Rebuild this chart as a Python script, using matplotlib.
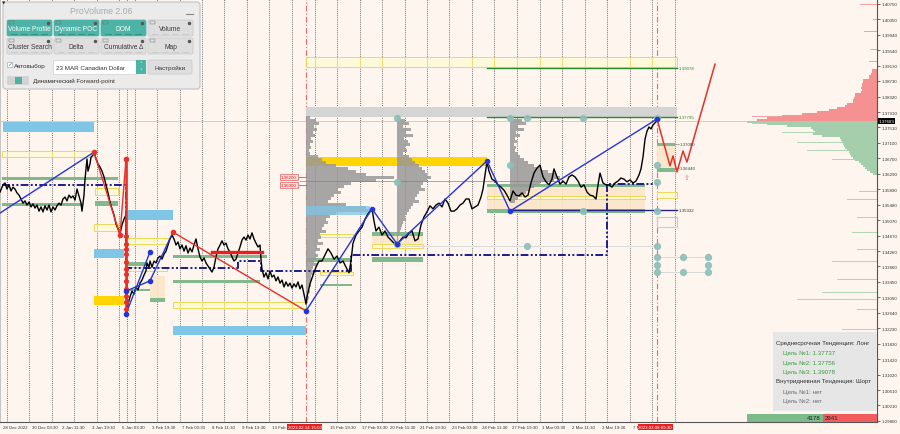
import numpy as np
import matplotlib.pyplot as plt
from matplotlib.patches import Rectangle, FancyBboxPatch

plt.rcParams['font.family'] = ['Liberation Sans', 'DejaVu Sans']

BG = '#fdf5ee'

# ---------------- values ----------------
price_ticks = [1.40750, 1.40350, 1.39940, 1.39540, 1.39130, 1.38730, 1.38320,
               1.37910, 1.37510, 1.37100, 1.36700, 1.36290, 1.35890, 1.35480,
               1.35070, 1.34670, 1.34260, 1.33860, 1.33450, 1.33050, 1.32640,
               1.32230, 1.31830, 1.31420, 1.31020, 1.30610, 1.30210, 1.29800]
last_price = 1.37683

# labels partly hidden behind the red time tags are kept as far as they show
date_pos = [3, 32, 62, 92, 122, 152, 182, 212, 242, 272, 330, 362, 390,
            420, 452, 482, 512, 542, 572, 602, 633]
date_labels = ['28 Dec 2022', '30 Dec 03:30', '2 Jan 11:30', '3 Jan 19:30',
               '5 Jan 03:30', '3 Feb 19:30', '7 Feb 03:30', '8 Feb 11:30',
               '9 Feb 19:30', '13 Feb', '15 Feb 19:30',
               '17 Feb 03:30', '20 Feb 11:30', '21 Feb 19:30', '23 Feb 03:30',
               '24 Feb 11:30', '27 Feb 19:30', '1 Mar 03:30', '2 Mar 11:30',
               '3 Mar 19:30', '7 M']
marker_pos = [306, 657]
marker_labels = ['2023.02.14 15:00', '2023.03.08 09:30']
grid_x = [7, 29, 52, 74, 97, 119, 127, 135, 157, 180, 202, 224, 247, 269, 292,
          315, 337, 360, 382, 405, 427, 449, 472, 494, 517, 540, 562, 585, 607,
          630, 652, 675]

# close prices (bar index, price)
seg_a_x = [0, 3, 5, 7, 9, 11, 13, 15, 17, 19, 21, 23, 25, 27, 29, 31, 33, 35, 37, 39,
           41, 43, 45, 47, 49, 51, 53, 55, 57, 59, 61, 63, 65, 67, 69, 71, 73, 75, 77, 79,
           81, 82, 84, 85, 86, 87, 88, 90, 91, 93, 94, 96, 98, 100, 102, 104, 106, 108,
           110, 112, 114, 116, 118, 120, 122, 124, 126]
seg_a = [1.3581, 1.3600, 1.3605, 1.3589, 1.3600, 1.3584, 1.3594, 1.3589, 1.3579, 1.3573,
         1.3563, 1.3552, 1.3558, 1.3547, 1.3555, 1.3542, 1.3550, 1.3539, 1.3547, 1.3531,
         1.3542, 1.3529, 1.3545, 1.3534, 1.3547, 1.3529, 1.3542, 1.3534, 1.3545, 1.3552,
         1.3547, 1.3563, 1.3568, 1.3558, 1.3573, 1.3566, 1.3571, 1.3560, 1.3589, 1.3571,
         1.3552, 1.3531, 1.3573, 1.3615, 1.3642, 1.3668, 1.3636, 1.3655, 1.3673, 1.3678,
         1.3686, 1.3668, 1.3655, 1.3647, 1.3636, 1.3621, 1.3600, 1.3579, 1.3555, 1.3537,
         1.3521, 1.3497, 1.3484, 1.3471, 1.3495, 1.3510, 1.3521]
seg_b_x = [127, 128, 130, 132, 134, 136, 138, 140, 142, 144, 146, 147, 149, 150, 152, 154,
           156, 158, 160, 162, 164, 166, 168, 170, 172, 174, 176, 178, 180, 182, 184, 186,
           188, 190, 192, 194, 196, 198, 200, 202, 204, 206, 208, 210, 212, 214, 216, 218,
           220, 222, 224, 226, 228, 230, 232, 234, 236, 238, 240, 242, 244, 246, 248, 250,
           252, 254, 256, 258, 260, 261, 262, 264, 266, 268, 270, 272, 274, 276, 278, 280,
           282, 284, 286, 288, 290, 292, 294, 296, 298, 300, 302, 304, 306]
seg_b = [1.3269, 1.3287, 1.3306, 1.3321, 1.3313, 1.3332, 1.3324, 1.3342, 1.3350, 1.3363,
         1.3374, 1.3395, 1.3384, 1.3400, 1.3384, 1.3400, 1.3395, 1.3408, 1.3413, 1.3405,
         1.3418, 1.3426, 1.3442, 1.3458, 1.3468, 1.3458, 1.3442, 1.3450, 1.3432, 1.3442,
         1.3426, 1.3440, 1.3421, 1.3434, 1.3424, 1.3442, 1.3458, 1.3432, 1.3411, 1.3400,
         1.3408, 1.3395, 1.3387, 1.3379, 1.3371, 1.3384, 1.3411, 1.3432, 1.3442, 1.3453,
         1.3442, 1.3447, 1.3432, 1.3424, 1.3411, 1.3400, 1.3405, 1.3421, 1.3437, 1.3455,
         1.3463, 1.3455, 1.3468, 1.3458, 1.3474, 1.3458, 1.3447, 1.3437, 1.3442, 1.3405,
         1.3379, 1.3358, 1.3369, 1.3353, 1.3374, 1.3358, 1.3363, 1.3348, 1.3358, 1.3342,
         1.3350, 1.3332, 1.3345, 1.3334, 1.3342, 1.3329, 1.3340, 1.3332, 1.3345, 1.3327,
         1.3337, 1.3313, 1.3287]
seg_c_x = [307, 310, 313, 316, 319, 322, 325, 328, 331, 334, 337, 340, 343, 346, 349, 351,
           353, 356, 359, 362, 365, 368, 372, 374, 376, 379, 382, 385, 388, 391, 394, 397,
           400, 403, 406, 409, 412, 415, 418, 421, 424, 427, 430, 433, 436, 439, 442, 445,
           448, 451, 454, 457, 460, 463, 466, 469, 472, 475, 478, 481, 483, 485, 487, 489,
           492, 495, 498, 501, 504, 507, 510, 513, 516, 519, 522, 525, 528, 531, 534, 537,
           540, 543, 546, 549, 552, 554, 557, 560, 563, 566, 569, 572, 575, 578, 581, 584,
           587, 590, 593, 596, 598, 600, 603, 606, 609, 612, 615, 618, 621, 624, 627, 630,
           633, 636, 639, 641, 643, 645, 647, 649, 651, 653, 655, 657]
seg_c = [1.3306, 1.3340, 1.3363, 1.3384, 1.3400, 1.3400, 1.3416, 1.3432, 1.3421, 1.3405,
         1.3413, 1.3395, 1.3400, 1.3384, 1.3369, 1.3400, 1.3447, 1.3468, 1.3479, 1.3489,
         1.3510, 1.3524, 1.3537, 1.3505, 1.3479, 1.3489, 1.3468, 1.3479, 1.3463, 1.3455,
         1.3447, 1.3445, 1.3453, 1.3463, 1.3461, 1.3474, 1.3479, 1.3453, 1.3458, 1.3495,
         1.3516, 1.3529, 1.3545, 1.3537, 1.3547, 1.3552, 1.3542, 1.3563, 1.3552, 1.3531,
         1.3531, 1.3537, 1.3547, 1.3552, 1.3563, 1.3563, 1.3537, 1.3542, 1.3547, 1.3568,
         1.3589, 1.3626, 1.3660, 1.3636, 1.3615, 1.3610, 1.3600, 1.3594, 1.3586, 1.3573,
         1.3558, 1.3584, 1.3573, 1.3571, 1.3579, 1.3568, 1.3573, 1.3605, 1.3631, 1.3644,
         1.3652, 1.3621, 1.3608, 1.3600, 1.3615, 1.3642, 1.3621, 1.3602, 1.3610, 1.3602,
         1.3621, 1.3626, 1.3621, 1.3610, 1.3594, 1.3600, 1.3581, 1.3573, 1.3571, 1.3563,
         1.3600, 1.3631, 1.3605, 1.3600, 1.3600, 1.3594, 1.3605, 1.3610, 1.3618, 1.3615,
         1.3608, 1.3613, 1.3605, 1.3610, 1.3626, 1.3642, 1.3673, 1.3720, 1.3741, 1.3752,
         1.3747, 1.3757, 1.3763, 1.3768]

# zones: (bar from, bar to, price low, price high)
blue_zones = [(3, 94, 1.3739, 1.3765), (127, 173, 1.3508, 1.3534),
              (94, 124, 1.3408, 1.3432), (173, 306, 1.3206, 1.3229),
              (306, 370, 1.3521, 1.3545)]
yellow_boxes = [(2, 95, 1.3673, 1.3689), (95, 118, 1.3573, 1.3592),
                (94, 118, 1.3479, 1.3497), (127, 168, 1.3445, 1.3461),
                (127, 167, 1.3374, 1.3384), (173, 306, 1.3277, 1.3292),
                (306, 677, 1.3910, 1.3936), (487, 645, 1.3563, 1.3571),
                (657, 677, 1.3566, 1.3581), (320, 353, 1.3463, 1.3471),
                (320, 353, 1.3363, 1.3371), (372, 423, 1.3434, 1.3445)]
beige_zones = [(487, 645, 1.3529, 1.3597), (372, 423, 1.3440, 1.3476),
               (150, 165, 1.3292, 1.3361), (657, 675, 1.3636, 1.3702)]
green_zones = [(2, 118, 1.3613, 1.3621), (2, 82, 1.3545, 1.3552),
               (95, 118, 1.3545, 1.3558), (127, 147, 1.3387, 1.3398),
               (127, 150, 1.3321, 1.3327), (150, 165, 1.3292, 1.3303),
               (173, 267, 1.3408, 1.3416), (173, 260, 1.3342, 1.3350),
               (306, 352, 1.3398, 1.3408), (320, 352, 1.3334, 1.3340),
               (372, 423, 1.3466, 1.3476), (372, 423, 1.3398, 1.3411),
               (487, 645, 1.3594, 1.3602), (487, 645, 1.3526, 1.3537),
               (657, 675, 1.3702, 1.3710), (657, 675, 1.3634, 1.3644)]
gold_zones = [(94, 124, 1.3285, 1.3308), (306, 487, 1.3650, 1.3673)]
grey_zones = [(306, 677, 1.3778, 1.3805)]
outline_blue = [(657, 677, 1.3489, 1.3515)]

# target levels: (from, to, price, label)
levels = [(487, 677, 1.39078, '1.39078'), (487, 677, 1.37795, '1.37795'),
          (510, 677, 1.35332, '1.35332')]
side_labels = [(1.37080, '1.37080'), (1.36440, '1.36440')]
red_tags = [1.36200, 1.36000]

# zigzags
blue_main_x = [306, 372, 397, 487, 510, 657]
blue_main_p = [1.3269, 1.3537, 1.3445, 1.3663, 1.3531, 1.3773]
blue_early = [([0, 94], [1.3526, 1.3686]),
              ([126, 150], [1.3261, 1.3424]),
              ([126, 150, 173], [1.3321, 1.3348, 1.3476])]
red_legs = [([94, 120, 126], [1.3686, 1.3468, 1.3668]),
            ([173, 306], [1.3476, 1.3269])]
red_drop_p = [1.3668, 1.3466, 1.3445, 1.3432, 1.3418, 1.3398, 1.3379, 1.3366,
              1.3348, 1.3327, 1.3308, 1.3292, 1.3274]
forecast_x = [657, 670, 673, 677, 683, 687, 715]
forecast_p = [1.3773, 1.3650, 1.3676, 1.3634, 1.3689, 1.3660, 1.3917]
navy_x = [2, 126, 126, 238, 238, 261, 261, 351, 351, 607, 607, 657]
navy_p = [1.3600, 1.3600, 1.3382, 1.3382, 1.3400, 1.3400, 1.3374, 1.3374,
          1.3416, 1.3416, 1.3602, 1.3602]

circ_x = [397, 510, 527, 583, 657, 397, 510, 657, 657, 397, 583, 657, 527, 657,
          657, 683, 708, 657, 708, 657, 683, 708]
circ_p = [1.3776, 1.3776, 1.3776, 1.3776, 1.3776, 1.3608, 1.3652, 1.3652, 1.3608,
          1.3445, 1.3531, 1.3531, 1.3440, 1.3440, 1.3411, 1.3411, 1.3411, 1.3390,
          1.3390, 1.3371, 1.3371, 1.3371]

# session volume profiles (width per price bin, top bin first)
prof_top = 1.3773
prof_bin = 0.00079
prof_base = [306, 397, 510]
prof_w = [
    [4, 10, 13, 8, 11, 7, 9, 5, 7, 4, 5, 3, 4, 12, 16, 20, 30, 42, 50, 60, 88, 70, 45,
     38, 32, 35, 28, 25, 22, 40, 60, 64, 30, 24, 20, 22, 18, 16, 20, 14, 15, 12, 17, 11,
     14, 9, 12, 10, 8, 11, 7, 6, 8, 5, 6, 4, 5, 3, 4, 2, 3, 2, 1, 1],
    [3, 8, 12, 6, 14, 9, 16, 7, 11, 13, 8, 10, 6, 12, 15, 18, 22, 25, 28, 30, 34, 30, 26,
     24, 28, 22, 20, 18, 22, 16, 14, 12, 10, 8, 9, 6, 5, 4, 3, 2, 1, 1],
    [4, 12, 16, 8, 14, 6, 10, 5, 7, 4, 6, 5, 8, 10, 14, 18, 24, 30, 38, 46, 50, 44, 30,
     24, 20, 16, 12, 8, 5],
]

# right hand market profile around the last price
rp_bin = 0.000525
rp_red = [120, 110, 95, 75, 60, 48, 40, 32, 30, 24, 24, 23, 22, 22, 16, 15, 16, 15,
          15, 14, 14, 8, 8, 6, 5, 5]
rp_green = [130, 110, 90, 66, 64, 62, 64, 55, 37, 36, 35, 34, 33, 32, 30, 28, 27, 26,
            24, 22, 18, 16, 14, 12, 10, 7, 4]
rp_red_spikes_p = [1.4075, 1.4036, 1.4004, 1.3957, 1.3925, 1.3781]
rp_red_spikes_w = [17, 4, 13, 7, 8, 125]
rp_green_spikes_p = [1.3762, 1.3739, 1.3713, 1.3692, 1.3668, 1.3584, 1.3563, 1.3516,
                     1.3476, 1.3432, 1.3400, 1.3353, 1.3319, 1.3300, 1.3274, 1.3222]
rp_green_spikes_w = [125, 95, 80, 70, 45, 18, 30, 20, 25, 20, 45, 40, 55, 80, 20, 35]

info_lines = ['Среднесрочная Тенденция: Лонг', 'Цель №1: 1.37737', 'Цель №2: 1.37756',
              'Цель №3: 1.39078', 'Внутридневная Тенденция: Шорт', 'Цель №1: нет',
              'Цель №2: нет']
buy_vol, sell_vol = 4178, 2941

# ---------------- figure ----------------
fig = plt.figure(figsize=(9, 4.35), dpi=100, facecolor=BG)
ax = fig.add_axes([0, 12 / 435, 877 / 900, 423 / 435], facecolor=BG)
ax.set_xlim(0, 877)
ax.set_ylim(1.29773, 1.40881)

YEL = '#f0d659'
GRN = '#82b98c'
BLU = '#2535d8'
RED = '#e8302a'

for g in grid_x:
    ax.axvline(g, color='#444444', lw=0.55, ls=(0, (1.2, 1.6)), zorder=0.5)
for m in marker_pos:
    ax.axvline(m, color='#ee6a6a', lw=0.8, ls=(0, (5, 2, 1, 2)), zorder=0.6)
ax.axhline(last_price, color='#c9c9c9', lw=0.6, zorder=0.7)

def zone(z, **kw):
    x0, x1, lo, hi = z
    ax.add_patch(Rectangle((x0, lo), x1 - x0, hi - lo, **kw))

for z in grey_zones:
    zone(z, fc='#d4d4d4', ec='none', zorder=1)
for z in beige_zones:
    zone(z, fc='#fbe6c8', ec='none', alpha=0.9, zorder=1)
for z in yellow_boxes:
    zone(z, fc='#fff9dc', ec=YEL, lw=0.7, zorder=1.2)
    for g in grid_x:
        if z[0] < g < z[1]:
            ax.plot([g, g], [z[2], z[3]], color=YEL, lw=0.6, zorder=1.3)
for z in gold_zones:
    zone(z, fc='#ffd400', ec='none', zorder=1.4)
for z in green_zones:
    zone(z, fc=GRN, ec='none', zorder=1.4)
for z in outline_blue:
    zone(z, fc='none', ec='#a9d7ea', lw=0.8, zorder=1.4)

# session profiles
for base, w in zip(prof_base, prof_w):
    w = np.array(w)
    tops = prof_top - prof_bin * np.arange(len(w))
    ax.barh(tops, w, height=prof_bin, left=base, align='edge',
            color='#999999', alpha=0.85, lw=0, zorder=2)

for i, z in enumerate(blue_zones):
    zone(z, fc='#7fc5e6', ec='none', alpha=0.75 if i == 4 else 1.0, zorder=2.2)

# level lines and labels
for x0, x1, p, lab in levels:
    col = '#22228a' if lab == '1.35332' else '#2e8b2e'
    ax.plot([x0, x1], [p, p], color=col, lw=1.0, zorder=3)
    ax.text(x1 + 2, p, lab, fontsize=3.2, color=col if col != '#22228a' else '#333333',
            va='center', ha='left', zorder=7)
for p, lab in side_labels:
    ax.plot([675, 679], [p, p], color='#888888', lw=0.5, zorder=3)
    ax.text(680, p, lab, fontsize=3.2, color='#444444', va='center', ha='left', zorder=7)
ax.plot([300, 557], [1.3610, 1.3610], color='#b86a6a', lw=0.6, alpha=0.8, zorder=2.5)
for p in red_tags:
    ax.plot([299, 306], [p, p], color='#e05050', lw=0.6, zorder=3)
    ax.text(289, p, f'{p:.5f}', fontsize=3.2, color='#d02020', ha='center', va='center',
            bbox=dict(fc='#fbdede', ec='#e06060', lw=0.5, pad=0.6), zorder=7)
ax.plot([397, 657], [1.3440, 1.3440], color='#d8d8d8', lw=0.7, zorder=2.5)
ax.plot([657, 708], [1.3411, 1.3411], color='#d8d8d8', lw=0.7, zorder=2.5)
ax.plot([657, 708], [1.3371, 1.3371], color='#d8d8d8', lw=0.7, zorder=2.5)

# navy step line
ax.plot(navy_x, navy_p, color='#1c1c8c', lw=1.4,
        ls=(0, (4, 1.2, 1, 1.2, 1, 1.2)), zorder=3.5)

# price
ax.plot(seg_a_x + seg_b_x + seg_c_x, seg_a + seg_b + seg_c, color='black', lw=1.0,
        zorder=4)

# zigzags
for xs, ps in blue_early:
    ax.plot(xs, ps, color=BLU, lw=1.0, zorder=5)
ax.plot(blue_main_x, blue_main_p, color=BLU, lw=1.0, zorder=5)
for xs, ps in red_legs:
    ax.plot(xs, ps, color=RED, lw=1.0, zorder=5)
ax.plot([126, 126], [red_drop_p[0], 1.3261], color=RED, lw=1.8, zorder=5)
ax.plot([126] * len(red_drop_p), red_drop_p, 'o', color=RED, ms=2.6, zorder=6)
ax.plot([212, 262], [1.3424, 1.3424], color='#ee1c1c', lw=2.4, zorder=5)
ax.plot(forecast_x, forecast_p, color=RED, lw=1.1, zorder=5)
ax.plot([94, 120, 126, 173], [1.3686, 1.3468, 1.3668, 1.3476], 'o', color=RED,
        ms=3, zorder=6)
ax.plot([126, 126, 150, 150] + blue_main_x, [1.3261, 1.3321, 1.3424, 1.3348] + blue_main_p,
        'o', color=BLU, ms=3, zorder=6)
ax.plot(circ_x, circ_p, 'o', color='#8dc0b9', ms=4.2, alpha=0.9, zorder=4.5)
ax.text(687, 1.3621, '\u21e7', fontsize=5, color='#f07070', family='DejaVu Sans',
        ha='center', va='center', zorder=7)

# right hand profile
rp_r = np.array(rp_red)
ax.barh(last_price + rp_bin * np.arange(len(rp_r)), rp_r, height=rp_bin, left=877 - rp_r,
        align='edge', color='#f59190', lw=0, zorder=2)
rp_g = np.array(rp_green)
ax.barh(last_price - rp_bin * (np.arange(len(rp_g)) + 1), rp_g, height=rp_bin,
        left=877 - rp_g, align='edge', color='#a5cfac', lw=0, zorder=2)
for p, w in zip(rp_red_spikes_p, rp_red_spikes_w):
    ax.plot([877 - w, 877], [p, p], color='#f59190', lw=0.6, zorder=2)
for p, w in zip(rp_green_spikes_p, rp_green_spikes_w):
    ax.plot([877 - w, 877], [p, p], color='#a5cfac', lw=0.6, zorder=2)

# axes styling
ax.set_xticks([])
ax.yaxis.tick_right()
ax.set_yticks(price_ticks)
ax.set_yticklabels([f'{t:.5f}' for t in price_ticks])
ax.tick_params(axis='y', labelsize=3.2, length=2, width=0.5, pad=1.2,
               colors='#333333')
for s in ['left', 'top']:
    ax.spines[s].set_color('#bbbbbb')
    ax.spines[s].set_linewidth(0.6)
for s in ['right', 'bottom']:
    ax.spines[s].set_color('#555555')
    ax.spines[s].set_linewidth(0.8)

ax.text(878.5, last_price, f'{last_price:.5f}', fontsize=3.2, color='white',
        va='center', ha='left', bbox=dict(fc='black', ec='none', pad=0.6), zorder=8)

xtr = ax.get_xaxis_transform()
for x, lab in zip(date_pos, date_labels):
    ax.text(x, -0.0115, lab, transform=xtr, fontsize=3.2, color='#333333',
            ha='left', va='center')
for x, lab in zip(marker_pos, marker_labels):
    ax.text(x - 18.5, -0.0115, lab, transform=xtr, fontsize=3.2, color='white',
            ha='left', va='center', bbox=dict(fc='#e62020', ec='none', pad=0.7),
            zorder=9)

# ---------------- overlay widgets ----------------
ui = fig.add_axes([0, 0, 1, 1])
ui.set_zorder(5)
ui.patch.set_visible(False)
ui.set_xlim(0, 900)
ui.set_ylim(435, 0)
ui.axis('off')

TEAL = '#4db3a6'
ui.add_patch(FancyBboxPatch((3, 3), 197, 87, boxstyle='round,pad=0,rounding_size=3',
                            fc='#ebebeb', ec='#c2c2c2', lw=0.8))
ui.text(2, 3.5, '\u25bc', fontsize=3, color='#222222', va='center', ha='left',
        family='DejaVu Sans')
ui.text(101, 11.5, 'ProVolume 2.06', fontsize=6.3, color='#a9a9a9', ha='center',
        va='center')
ui.plot([186, 193], [15, 15], color='#888888', lw=0.8)

buttons = [['Volume Profile', 'Dynamic POC', 'DOM', 'Volume'],
           ['Cluster Search', 'Delta', 'Cumulative \u0394', 'Map']]
for r, row in enumerate(buttons):
    y0 = 21 + r * 18
    for c, name in enumerate(row):
        x0 = 7 + c * 47
        teal = r == 0 and c < 3
        ui.add_patch(FancyBboxPatch((x0, y0), 45, 16,
                                    boxstyle='round,pad=0,rounding_size=1.5',
                                    fc=TEAL if teal else '#dedede',
                                    ec='#c8c8c8' if not teal else TEAL, lw=0.5))
        ui.text(x0 + 22.5, y0 + 8.5, name, fontsize=4.8,
                color='white' if teal else '#3a3a3a', ha='center', va='center')
        ui.plot(x0 + 41, y0 + 2.5, 'o', ms=1.5, color='#555555')
        ui.add_patch(Rectangle((x0 + 2, y0 + 1), 5, 3, fc='none', ec='#6a6a6a', lw=0.3))
        for k in range(4):
            ui.plot([x0 + 4 + k * 10, x0 + 10 + k * 10], [y0 + 14.2, y0 + 14.2],
                    color='#2f8b80' if teal else '#c9c9c9', lw=0.6)

ui.add_patch(Rectangle((7, 63), 5, 5, fc='white', ec='#9a9a9a', lw=0.4))
ui.text(7.3, 64.5, '\u2713', fontsize=4.5, color='#2a9a8c', ha='left', va='center',
        family='DejaVu Sans')
ui.text(14, 66.5, 'Автовыбор', fontsize=4.5, color='#333333', va='center')
ui.add_patch(Rectangle((53, 61), 83, 14, fc='white', ec='#cfcfcf', lw=0.5))
ui.text(56, 68, '23 MAR Canadian Dollar', fontsize=4.5, color='#333333', va='center')
ui.add_patch(Rectangle((136, 61), 10, 14, fc=TEAL, ec='none'))
ui.text(141, 64.5, '\u02c4', fontsize=4, color='white', ha='center', va='center',
        family='DejaVu Sans')
ui.text(141, 71, '\u02c5', fontsize=4, color='white', ha='center', va='center',
        family='DejaVu Sans')
ui.add_patch(FancyBboxPatch((148, 61), 44, 14, boxstyle='round,pad=0,rounding_size=1.5',
                            fc='#dedede', ec='#c8c8c8', lw=0.5))
ui.text(170, 68, 'Настройки', fontsize=4.6, color='#3a3a3a', ha='center', va='center')
ui.add_patch(FancyBboxPatch((7, 77), 22, 9, boxstyle='round,pad=0,rounding_size=1.5',
                            fc='#d3d3d3', ec='none'))
ui.add_patch(Rectangle((15, 78), 7, 7, fc=TEAL, ec='none'))
ui.text(33, 81.5, 'Динамический Forward-point', fontsize=4.5, color='#333333',
        va='center')

# info box, bottom right
ui.add_patch(Rectangle((773, 333), 104, 79, fc='#e6e6e6', ec='none', alpha=0.96))
info_y = [344, 353.5, 363, 372.5, 382, 392, 401]
for i, (txt, y) in enumerate(zip(info_lines, info_y)):
    head = i in (0, 4)
    col = '#2e2e2e' if head else ('#3a9a3a' if i in (1, 2, 3) else '#6a6a6a')
    ui.text(776 if head else 783, y, txt, fontsize=4.4, color=col, va='center')

ui.add_patch(Rectangle((747, 415), 823 - 747, 8, fc='#7dba89', ec='none'))
ui.add_patch(Rectangle((823, 415), 877 - 823, 8, fc='#f25c5c', ec='none'))
ui.text(821, 419, str(buy_vol), fontsize=4.4, color='#222222', ha='right', va='center')
ui.text(825, 419, str(sell_vol), fontsize=4.4, color='#222222', ha='left', va='center')

fig.savefig('out.png', dpi=100, facecolor=BG)
